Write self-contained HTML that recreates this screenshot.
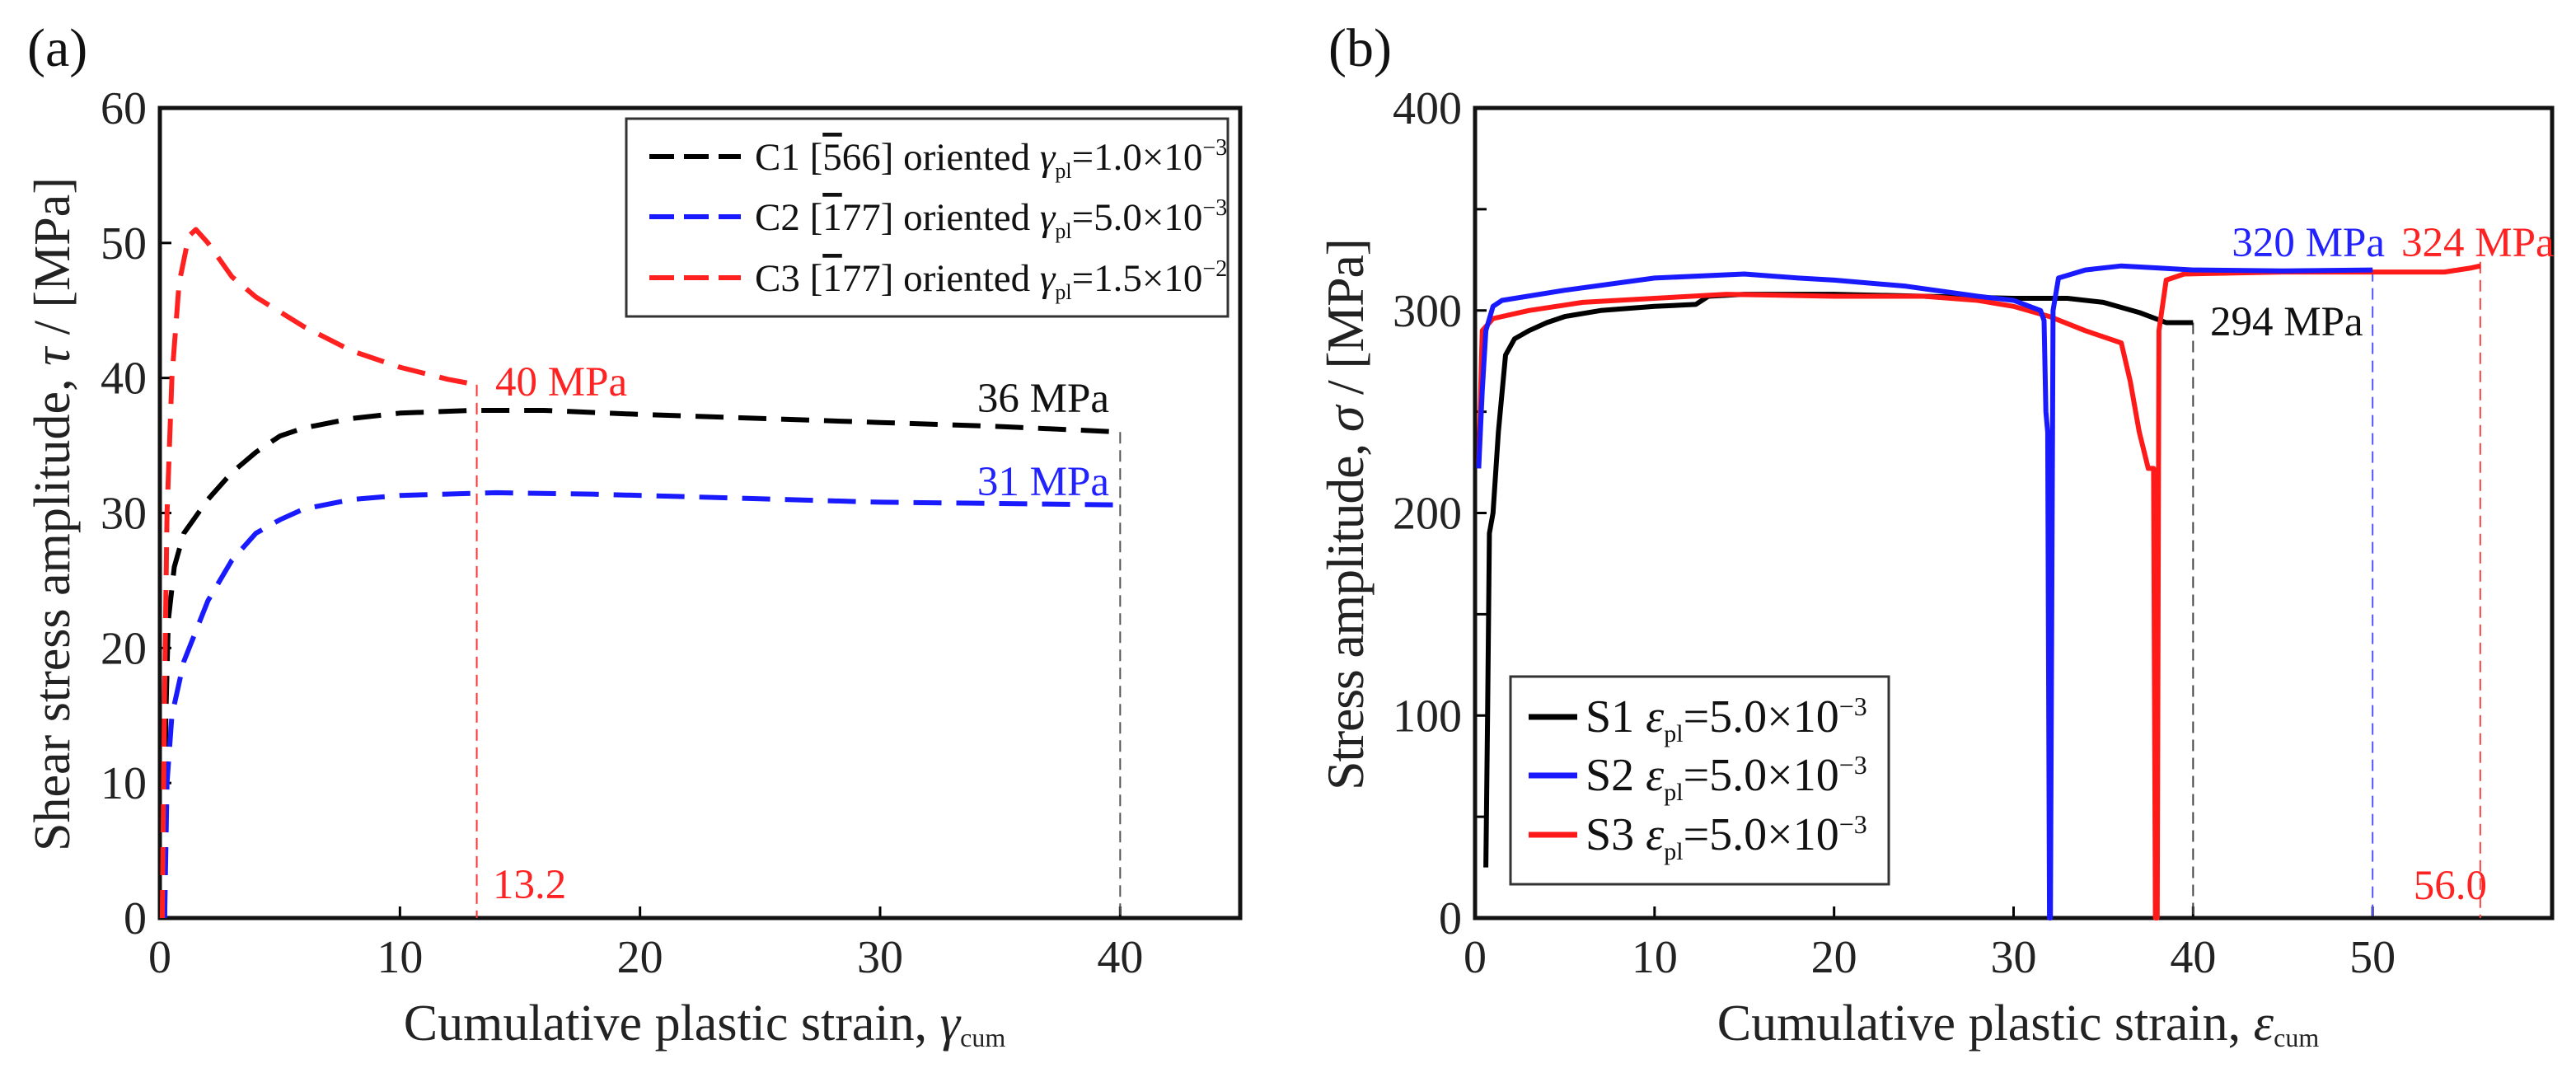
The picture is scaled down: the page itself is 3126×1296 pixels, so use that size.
<!DOCTYPE html>
<html><head><meta charset="utf-8"><style>
html,body{margin:0;padding:0;background:#fff}
svg{display:block;font-family:"Liberation Serif",serif}
</style></head><body>
<svg id="fig" width="3126" height="1296" viewBox="0 0 3126 1296" xmlns="http://www.w3.org/2000/svg">
<g id="pa"></g>
<g id="pb"></g>
</svg>
<script>
const aXTicks=[0,10,20,30,40];
const aYTicks=[0,10,20,30,40,50,60];
const c1X=[0.2,0.25,0.35,0.6,1,2,3,4,5,6,8,10,13,16,20,25,30,35,40];
const c1Y=[0,15,22,26,28.5,31,33,34.5,35.7,36.3,37,37.4,37.6,37.6,37.3,37,36.7,36.4,36];
const c2X=[0.2,0.3,0.5,1,2,3,4,5,6,8,10,14,18,22,26,30,35,40];
const c2Y=[0,10,15,19,23.5,26.5,28.5,29.5,30.3,31,31.3,31.5,31.4,31.2,31,30.8,30.7,30.6];
const c3X=[0.1,0.2,0.3,0.5,0.8,1.2,1.5,2,3,4,6,8,10,12,13.2];
const c3Y=[0,17,30,40,47,50.5,51,50,47.5,46,43.8,42,40.8,39.9,39.5];
const bXTicks=[0,10,20,30,40,50];
const bYTicks=[0,100,200,300,400];
const bYMinor=[50,150,250,350];
const s1X=[0.6,0.7,0.8,1,1.3,1.7,2.2,3,4,5,7,10,12.3,13,15,20,25,30,33,35,37,38.5,40];
const s1Y=[25,100,190,200,240,278,286,290,294,297,300,302,303,307,308,308,307,306,306,304,299,294,294];
const s2X=[0.2,0.4,0.6,1,1.5,5,10,15,18,20,24,28,30,31.5,31.7,31.8,31.9,32,32.05,32.2,32.5,34,36,38,40,45,50];
const s2Y=[222,260,290,302,305,310,316,318,316,315,312,307,305,300,295,250,240,0,0,300,316,320,322,321,320,319.5,320];
const s3X=[0.2,0.4,1,3,6,10,14,20,25,28,30,32,34,36,36.5,37,37.5,37.8,37.9,38,38.1,38.5,39.5,45,50,54,55.5,56];
const s3Y=[222,290,296,300,304,306,308,307,307,305,302,297,290,284,265,240,222,222,0,0,290,315,318,319,319,319,321,322];

const NS="http://www.w3.org/2000/svg";
function mk(parent,tag,attrs,text){const e=document.createElementNS(NS,tag);for(const k in attrs)e.setAttribute(k,attrs[k]);if(text!==undefined)e.textContent=text;parent.appendChild(e);return e;}

function axes(g,L,R,T,B,xmax,ymax,xt,yt,ymin){
  const sx=v=>L+(R-L)*v/xmax, sy=v=>B-(B-T)*v/ymax;
  xt.forEach(v=>{
    const l=mk(g,'line',{x1:sx(v),x2:sx(v),y1:B,y2:B-14,stroke:'#000','stroke-width':3});
    
    
    const t=mk(g,'text',{x:sx(v),y:1180,'font-size':56,'text-anchor':'middle',fill:'#222'},v);
    
    
  });
  yt.forEach(v=>{
    const l=mk(g,'line',{x1:L,x2:L+14,y1:sy(v),y2:sy(v),stroke:'#000','stroke-width':3});
    
    
    const t=mk(g,'text',{x:L-16,y:sy(v)+19,'font-size':56,'text-anchor':'end',fill:'#222'},v);
    
    
  });
  ymin.forEach(v=>{
    const l=mk(g,'line',{x1:L,x2:L+14,y1:sy(v),y2:sy(v),stroke:'#000','stroke-width':3});
    
    
  });
  const r=mk(g,'rect',{x:L,y:T,width:R-L,height:B-T,fill:'none',stroke:'#111','stroke-width':5});
  
  
  return [sx,sy];
}
function series(g,sx,sy,xs,ys,color,dash,name){
  const d=xs.map((x,i)=>(i?'L':'M')+sx(x).toFixed(1)+','+sy(ys[i]).toFixed(1)).join(' ');
  const p=mk(g,'path',{d:d,fill:'none',stroke:color,'stroke-width':6,'stroke-linejoin':'round'});
  if(dash)p.setAttribute('stroke-dasharray',dash);
  
  
}
function vdash(g,x,y1,y2,color,name){
  const l=mk(g,'line',{x1:x,x2:x,y1:y1,y2:y2,stroke:color,'stroke-width':2,'stroke-dasharray':'14,8'});
  
  
}
function txt(g,x,y,s,fill,size,name,anchor){
  const t=mk(g,'text',{x:x,y:y,'font-size':size,fill:fill,'text-anchor':anchor||'start'});
  t.innerHTML=s;
  
  
  return t;
}

// Panel A
const ga=document.getElementById('pa');
const [ax,ay]=axes(ga,194,1505,131,1114,45,60,aXTicks,aYTicks,[]);
txt(ga,33,80,'(a)','#111',66,'panel-label-a');
vdash(ga,ax(13.2),ay(39.5),1114,'#f33','c3-end-marker');
vdash(ga,ax(40),ay(36),1114,'#555','c1-end-marker');
series(ga,ax,ay,c1X,c1Y,'#000','34,18','series-c1');
series(ga,ax,ay,c2X,c2Y,'#1a1aff','34,18','series-c2');
series(ga,ax,ay,c3X,c3Y,'#ff2020','34,18','series-c3');
txt(ga,601,480,'40 MPa','#f22',51,'c3-final-label');
txt(ga,1346,500,'36 MPa','#111',51,'c1-final-label','end');
txt(ga,1346,601,'31 MPa','#22f',51,'c2-final-label','end');
txt(ga,598,1090,'13.2','#f22',51,'c3-strain-label');
const yta=txt(ga,84,624,'Shear stress amplitude, <tspan font-style="italic">τ</tspan>  / [MPa]','#222',62,'y-axis-title-a','middle');
yta.setAttribute('transform','rotate(-90 84 624)');
yta.setAttribute('textLength','818');
const xta=txt(ga,855,1262,'Cumulative plastic strain, <tspan font-style="italic">γ</tspan><tspan font-size="32" dy="8">cum</tspan>','#222',62,'x-axis-title-a','middle');
// legend a
const la=mk(ga,'g',{});


const lr=mk(la,'rect',{x:760,y:144,width:730,height:240,fill:'#fff',stroke:'#333','stroke-width':3});


const la_items=[['#000','C1 [<tspan text-decoration="overline">5</tspan>66] oriented  <tspan font-style="italic">γ</tspan><tspan font-size="26" dy="10">pl</tspan><tspan dy="-10">=1.0×10</tspan><tspan font-size="28" dy="-18">−3</tspan>'],
['#1a1aff','C2 [<tspan text-decoration="overline">1</tspan>77] oriented  <tspan font-style="italic">γ</tspan><tspan font-size="26" dy="10">pl</tspan><tspan dy="-10">=5.0×10</tspan><tspan font-size="28" dy="-18">−3</tspan>'],
['#ff2020','C3 [<tspan text-decoration="overline">1</tspan>77] oriented  <tspan font-style="italic">γ</tspan><tspan font-size="26" dy="10">pl</tspan><tspan dy="-10">=1.5×10</tspan><tspan font-size="28" dy="-18">−2</tspan>']];
const laY=[190,263,337];
la_items.forEach((it,i)=>{
  const l=mk(la,'line',{x1:788,x2:899,y1:laY[i],y2:laY[i],stroke:it[0],'stroke-width':6,'stroke-dasharray':'30,12'});
  
  
  txt(la,916,laY[i]+16,it[1],'#111',47,'legend-entry');
});

// Panel B
const gb=document.getElementById('pb');
const [bx,by]=axes(gb,1790,3097,131,1114,60,400,bXTicks,bYTicks,bYMinor);
txt(gb,1612,80,'(b)','#111',66,'panel-label-b');
vdash(gb,bx(40),by(294),1114,'#444','s1-end-marker');
vdash(gb,bx(50),by(320),1114,'#55f','s2-end-marker');
vdash(gb,bx(56),by(324),1114,'#f44','s3-end-marker');
series(gb,bx,by,s1X,s1Y,'#000',null,'series-s1');
series(gb,bx,by,s3X,s3Y,'#ff1a1a',null,'series-s3');
series(gb,bx,by,s2X,s2Y,'#1a1aff',null,'series-s2');
txt(gb,2894,311,'320 MPa','#22f',51,'s2-final-label','end');
txt(gb,2914,311,'324 MPa','#f22',51,'s3-final-label');
txt(gb,2682,407,'294 MPa','#111',51,'s1-final-label');
txt(gb,3018,1091,'56.0','#f22',51,'s3-strain-label','end');
const ytb=txt(gb,1654,624,'Stress amplitude, <tspan font-style="italic">σ</tspan> / [MPa]','#222',64,'y-axis-title-b','middle');
ytb.setAttribute('transform','rotate(-90 1654 624)');
ytb.setAttribute('textLength','670');
txt(gb,2449,1262,'Cumulative plastic strain, <tspan font-style="italic">ε</tspan><tspan font-size="32" dy="8">cum</tspan>','#222',62,'x-axis-title-b','middle');
const lb=mk(gb,'g',{});


const lbr=mk(lb,'rect',{x:1833,y:821,width:459,height:252,fill:'#fff',stroke:'#333','stroke-width':3});


const lbItems=[['#000','S1'],['#1a1aff','S2'],['#ff1a1a','S3']];
const lbY=[870,941,1013];
lbItems.forEach((it,i)=>{
  const l=mk(lb,'line',{x1:1855,x2:1914,y1:lbY[i],y2:lbY[i],stroke:it[0],'stroke-width':7});
  
  
  txt(lb,1924,lbY[i]+18,it[1]+'  <tspan font-style="italic">ε</tspan><tspan font-size="30" dy="12">pl</tspan><tspan dy="-12">=5.0×10</tspan><tspan font-size="32" dy="-20">−3</tspan>','#111',56,'legend-entry');
});
</script>
</body></html>
